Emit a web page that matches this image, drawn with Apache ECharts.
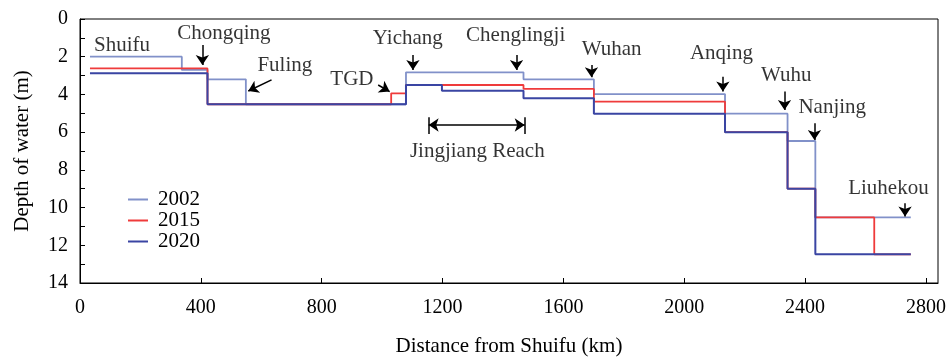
<!DOCTYPE html>
<html>
<head>
<meta charset="utf-8">
<script src="https://cdn.jsdelivr.net/npm/echarts@6/dist/echarts.min.js"></script>
<style>
  html, body { margin: 0; padding: 0; background: #fff; }
  #chart { width: 947px; height: 359px; }
</style>
</head>
<body>
<div id="chart"></div>
<script>
const FONT = 'Liberation Serif';

// Reach boundaries (km from Shuifu) and the water depth held over each reach (m)
const km2002    = [33, 337, 422, 549, 1079, 1468, 1701, 2135, 2342, 2434, 2750];
const depth2002 = [2.0, 2.7, 3.2, 4.52, 2.83, 3.2, 3.98, 5.02, 6.47, 10.52, 10.52];

const km2015    = [33, 422, 1030, 1079, 1468, 1701, 2135, 2342, 2434, 2629, 2750];
const depth2015 = [2.62, 4.52, 3.94, 3.5, 3.71, 4.38, 6.0, 9.0, 10.52, 12.48, 12.48];

const km2020    = [33, 422, 1079, 1198, 1468, 1701, 2135, 2342, 2434, 2750];
const depth2020 = [2.88, 4.52, 3.5, 3.8, 4.2, 5.02, 6.0, 9.0, 12.48, 12.48];

const years = ['2002', '2015', '2020'];
const xTicks = [0, 400, 800, 1200, 1600, 2000, 2400, 2800];

// Station names and where their text sits (km, depth)
const stationNames = ['Shuifu', 'Chongqing', 'Fuling', 'TGD', 'Yichang', 'Chenglingji',
                      'Wuhan', 'Anqing', 'Wuhu', 'Nanjing', 'Liuhekou', 'Jingjiang Reach'];
const stationTextKm    = [139, 476, 678, 900, 1085, 1442, 1760, 2123, 2338, 2490, 2676, 1315];
const stationTextDepth = [1.38, 0.76, 2.44, 3.23, 1.02, 0.85, 1.61, 1.82, 3.02, 4.68, 8.98, 7.05];

// Pointer arrows: tail (km, depth) -> head (km, depth)
const arrowTailKm    = [405, 634, 987, 1102, 1445, 1693, 2128, 2332, 2431, 2731];
const arrowTailDepth = [1.38, 3.23, 3.50, 1.91, 1.91, 2.44, 3.06, 3.85, 5.53, 9.77];
const arrowHeadKm    = [405, 557, 1025, 1102, 1445, 1693, 2128, 2332, 2431, 2731];
const arrowHeadDepth = [2.44, 3.82, 3.85, 2.70, 2.70, 3.09, 3.85, 4.83, 6.42, 10.48];

// Extent of the Jingjiang Reach (km) and the depth of its span marker
const reachKm = [1154, 1472];
const reachDepth = 5.62;
const reachBarDepth = [5.21, 6.10];

const zip = (xs, ys) => xs.map((x, i) => [x, ys[i]]);

const stepSeries = (name, xs, ys, color, width) => ({
  name: name,
  type: 'line',
  step: 'end',
  data: zip(xs, ys),
  symbol: 'none',
  lineStyle: { color: color, width: width },
  itemStyle: { color: color },
  silent: true
});

const chart = echarts.init(document.getElementById('chart'), null, { renderer: 'canvas' });

chart.setOption({
  animation: false,
  backgroundColor: '#fff',
  textStyle: { fontFamily: FONT, color: '#000' },
  grid: {
    left: 80, right: 9, top: 19, bottom: 76,
    show: true, borderColor: '#000', borderWidth: 1,
    containLabel: false, outerBoundsMode: 'none'
  },
  legend: {
    data: years,
    orient: 'vertical',
    left: 123, top: 184,
    icon: 'rect',
    itemWidth: 20, itemHeight: 2,
    itemGap: 0,
    textStyle: { fontFamily: FONT, fontSize: 21, color: '#000', padding: [0, 0, 0, 5] },
    selectedMode: false
  },
  xAxis: {
    type: 'value',
    min: 0, max: 2840, interval: 400,
    name: 'Distance from Shuifu (km)',
    nameLocation: 'middle', nameGap: 53,
    nameTextStyle: { fontFamily: FONT, fontSize: 21, color: '#000' },
    axisLine: { show: true, onZero: false, lineStyle: { color: '#000', width: 1 } },
    axisTick: { show: true, inside: true, length: 5, customValues: xTicks, lineStyle: { color: '#000' } },
    axisLabel: {
      customValues: xTicks, formatter: v => String(v),
      fontFamily: FONT, fontSize: 20, color: '#000', margin: 15
    },
    splitLine: { show: false }
  },
  yAxis: {
    type: 'value',
    inverse: true,
    min: 0, max: 14, interval: 2,
    name: 'Depth of water (m)',
    nameLocation: 'middle', nameGap: 47,
    nameTextStyle: { fontFamily: FONT, fontSize: 21, color: '#000' },
    axisLine: { show: true, lineStyle: { color: '#000', width: 1 } },
    axisTick: { show: true, inside: true, length: 5, lineStyle: { color: '#000' } },
    minorTick: { show: true, splitNumber: 2, length: 5, lineStyle: { color: '#000' } },
    axisLabel: { formatter: v => String(v), fontFamily: FONT, fontSize: 20, color: '#000', margin: 12 },
    splitLine: { show: false },
    minorSplitLine: { show: false }
  },
  series: [
    stepSeries('2002', km2002, depth2002, '#8191c9', 1.8),
    stepSeries('2015', km2015, depth2015, '#ef3b3b', 1.8),
    stepSeries('2020', km2020, depth2020, '#3a45a3', 2),
    {
      name: 'stations',
      type: 'scatter',
      symbolSize: 0,
      silent: true,
      data: stationNames.map((n, i) => ({ name: n, value: [stationTextKm[i], stationTextDepth[i]] })),
      label: {
        show: true, position: 'inside', formatter: '{b}',
        fontFamily: FONT, fontSize: 21, color: '#000'
      },
      z: 5
    },
    {
      name: 'pointers',
      type: 'lines',
      coordinateSystem: 'cartesian2d',
      silent: true,
      symbol: ['none', 'arrow'],
      symbolSize: 10,
      lineStyle: { color: '#000', width: 1.5, opacity: 1, curveness: 0 },
      data: arrowTailKm.map((x, i) => ({
        coords: [[x, arrowTailDepth[i]], [arrowHeadKm[i], arrowHeadDepth[i]]]
      })),
      z: 6
    },
    {
      name: 'reach span',
      type: 'lines',
      coordinateSystem: 'cartesian2d',
      silent: true,
      symbol: ['arrow', 'arrow'],
      symbolSize: 10,
      lineStyle: { color: '#000', width: 1.5, opacity: 1 },
      data: [{ coords: [[reachKm[0], reachDepth], [reachKm[1], reachDepth]] }],
      z: 6
    },
    {
      name: 'reach ends',
      type: 'lines',
      coordinateSystem: 'cartesian2d',
      silent: true,
      symbol: ['none', 'none'],
      lineStyle: { color: '#000', width: 1.5, opacity: 1 },
      data: reachKm.map(x => ({ coords: [[x, reachBarDepth[0]], [x, reachBarDepth[1]]] })),
      z: 6
    }
  ]
});
</script>
</body>
</html>
